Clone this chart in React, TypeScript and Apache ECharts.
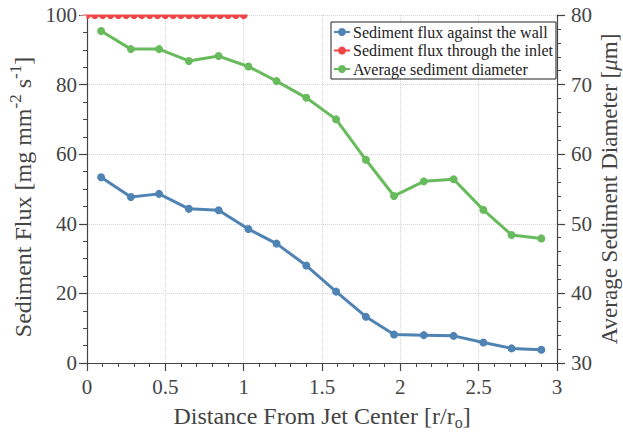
import React, { useEffect, useRef } from "react";
import * as echarts from "echarts";

const xCenters = [0.09, 0.28, 0.46, 0.65, 0.84, 1.03, 1.21, 1.4, 1.59, 1.78, 1.96, 2.15, 2.34, 2.53, 2.71, 2.9];
const wallFlux = [53.4, 47.7, 48.6, 44.3, 43.9, 38.5, 34.3, 28.0, 20.5, 13.3, 8.2, 8.0, 7.8, 5.9, 4.2, 3.8];
const diameter = [77.7, 75.1, 75.1, 73.4, 74.1, 72.6, 70.5, 68.1, 65.0, 59.2, 54.0, 56.1, 56.4, 52.0, 48.4, 47.9];
const inletX = [0, 0.05, 0.1, 0.15, 0.2, 0.25, 0.3, 0.35, 0.4, 0.45, 0.5, 0.55, 0.6, 0.65, 0.7, 0.75, 0.8, 0.85, 0.9, 0.95, 1];
const inletFlux = [100, 100, 100, 100, 100, 100, 100, 100, 100, 100, 100, 100, 100, 100, 100, 100, 100, 100, 100, 100, 100];

const seriesNames = [
  "Sediment flux against the wall",
  "Sediment flux through the inlet",
  "Average sediment diameter",
];
const colors = ["#4f83b3", "#ee4646", "#68bb5c"];

const FONT = "'Liberation Serif', 'Times New Roman', serif";
const AXIS_COLOR = "#444";
const TEXT_COLOR = "#444";

export default function App() {
  const ref = useRef<HTMLDivElement>(null);

  useEffect(() => {
    if (!ref.current) return;
    document.body.style.margin = "0";
    const chart = echarts.init(ref.current, null, { renderer: "svg" });

    const pair = (xs: number[], ys: number[]) => xs.map((x, i) => [x, ys[i]]);

    const axisCommon = {
      axisLine: { show: true, lineStyle: { color: AXIS_COLOR, width: 1.2 } },
      axisTick: { show: true, inside: false, length: 8, lineStyle: { color: AXIS_COLOR, width: 1.2 } },
      minorTick: { show: true, length: 4, lineStyle: { color: AXIS_COLOR, width: 1 } },
      axisLabel: { color: TEXT_COLOR, fontFamily: FONT, fontSize: 21 },
    };

    const lineSeries = (name: string, data: number[][], color: string, yAxisIndex: number) => ({
      name,
      type: "line",
      yAxisIndex,
      data,
      symbol: "circle",
      symbolSize: 8,
      showSymbol: true,
      lineStyle: { color, width: 3 },
      itemStyle: { color },
      clip: false,
      z: 3,
    });

    chart.setOption({
      animation: false,
      backgroundColor: "#fff",
      textStyle: { fontFamily: FONT },
      grid: {
        left: 87,
        right: 66,
        top: 15,
        bottom: 72,
        containLabel: false,
        outerBoundsMode: "none",
      },
      legend: {
        orient: "vertical",
        left: 331,
        top: 22,
        data: seriesNames,
        backgroundColor: "#fff",
        borderColor: "#222",
        borderWidth: 1,
        borderRadius: 0,
        padding: [2, 3, 2, 2],
        itemGap: 2.5,
        itemWidth: 16,
        itemHeight: 10,
        textStyle: { fontFamily: FONT, fontSize: 16, color: "#222", padding: [0, 0, 0, -2] },
      },
      xAxis: {
        type: "value",
        min: 0,
        max: 3,
        interval: 0.5,
        ...axisCommon,
        minorTick: { ...axisCommon.minorTick, splitNumber: 5 },
        axisLabel: { ...axisCommon.axisLabel, margin: 13 },
        splitLine: { show: true, lineStyle: { color: "#d4d4d4", type: "dotted", width: 1 } },
        name: "Distance From Jet Center [r/r{sub|o}]",
        nameLocation: "middle",
        nameGap: 38,
        nameTextStyle: {
          color: TEXT_COLOR,
          fontFamily: FONT,
          fontSize: 24,
          rich: {
            sub: { fontFamily: FONT, fontSize: 16, color: TEXT_COLOR, padding: [13, 0, 0, 0] },
          },
        },
      },
      yAxis: [
        {
          type: "value",
          min: 0,
          max: 100,
          interval: 20,
          ...axisCommon,
          minorTick: { ...axisCommon.minorTick, splitNumber: 4 },
          axisLabel: { ...axisCommon.axisLabel, margin: 10 },
          splitLine: { show: true, lineStyle: { color: "#d4d4d4", type: "dotted", width: 1 } },
          name: "Sediment Flux [mg mm{sup|-2} s{sup|-1}]",
          nameLocation: "middle",
          nameGap: 40,
          nameTextStyle: {
            color: TEXT_COLOR,
            fontFamily: FONT,
            fontSize: 24,
            padding: [0, 16, 0, 0],
            rich: {
              sup: { fontFamily: FONT, fontSize: 17, color: TEXT_COLOR, padding: [0, 0, 15, 0] },
            },
          },
        },
        {
          type: "value",
          position: "right",
          min: 30,
          max: 80,
          interval: 10,
          ...axisCommon,
          minorTick: { ...axisCommon.minorTick, splitNumber: 5 },
          axisLabel: { ...axisCommon.axisLabel, margin: 14 },
          splitLine: { show: false },
          name: "Average Sediment Diameter [{it|μ}m]",
          nameLocation: "middle",
          nameGap: 41,
          nameMoveOverlap: false,
          nameRotate: 90,
          nameTextStyle: {
            color: TEXT_COLOR,
            fontFamily: FONT,
            fontSize: 23,
            rich: {
              it: { fontFamily: FONT, fontSize: 23, color: TEXT_COLOR, fontStyle: "italic" },
            },
          },
        },
      ],
      series: [
        lineSeries(seriesNames[0], pair(xCenters, wallFlux), colors[0], 0),
        lineSeries(seriesNames[1], pair(inletX, inletFlux), colors[1], 0),
        lineSeries(seriesNames[2], pair(xCenters, diameter), colors[2], 1),
      ],
    });

    // Mask the parts of the inlet markers that fall outside the plotting box
    const p0 = chart.convertToPixel({ xAxisIndex: 0, yAxisIndex: 0 }, [0, 100]) as number[];
    const p1 = chart.convertToPixel({ xAxisIndex: 0, yAxisIndex: 0 }, [1, 100]) as number[];
    if (p0 && p1) {
      chart.setOption({
        graphic: [
          {
            type: "rect",
            z: 100,
            silent: true,
            shape: { x: p0[0] - 7, y: 0, width: p1[0] - p0[0] + 14, height: p0[1] - 0.6 },
            style: { fill: "#fff" },
          },
          {
            type: "rect",
            z: 100,
            silent: true,
            shape: { x: p0[0] - 7, y: p0[1] + 0.6, width: 6.4, height: 7 },
            style: { fill: "#fff" },
          },
        ],
      });
    }

    return () => chart.dispose();
  }, []);

  return <div ref={ref} style={{ width: 623, height: 435 }} />;
}
